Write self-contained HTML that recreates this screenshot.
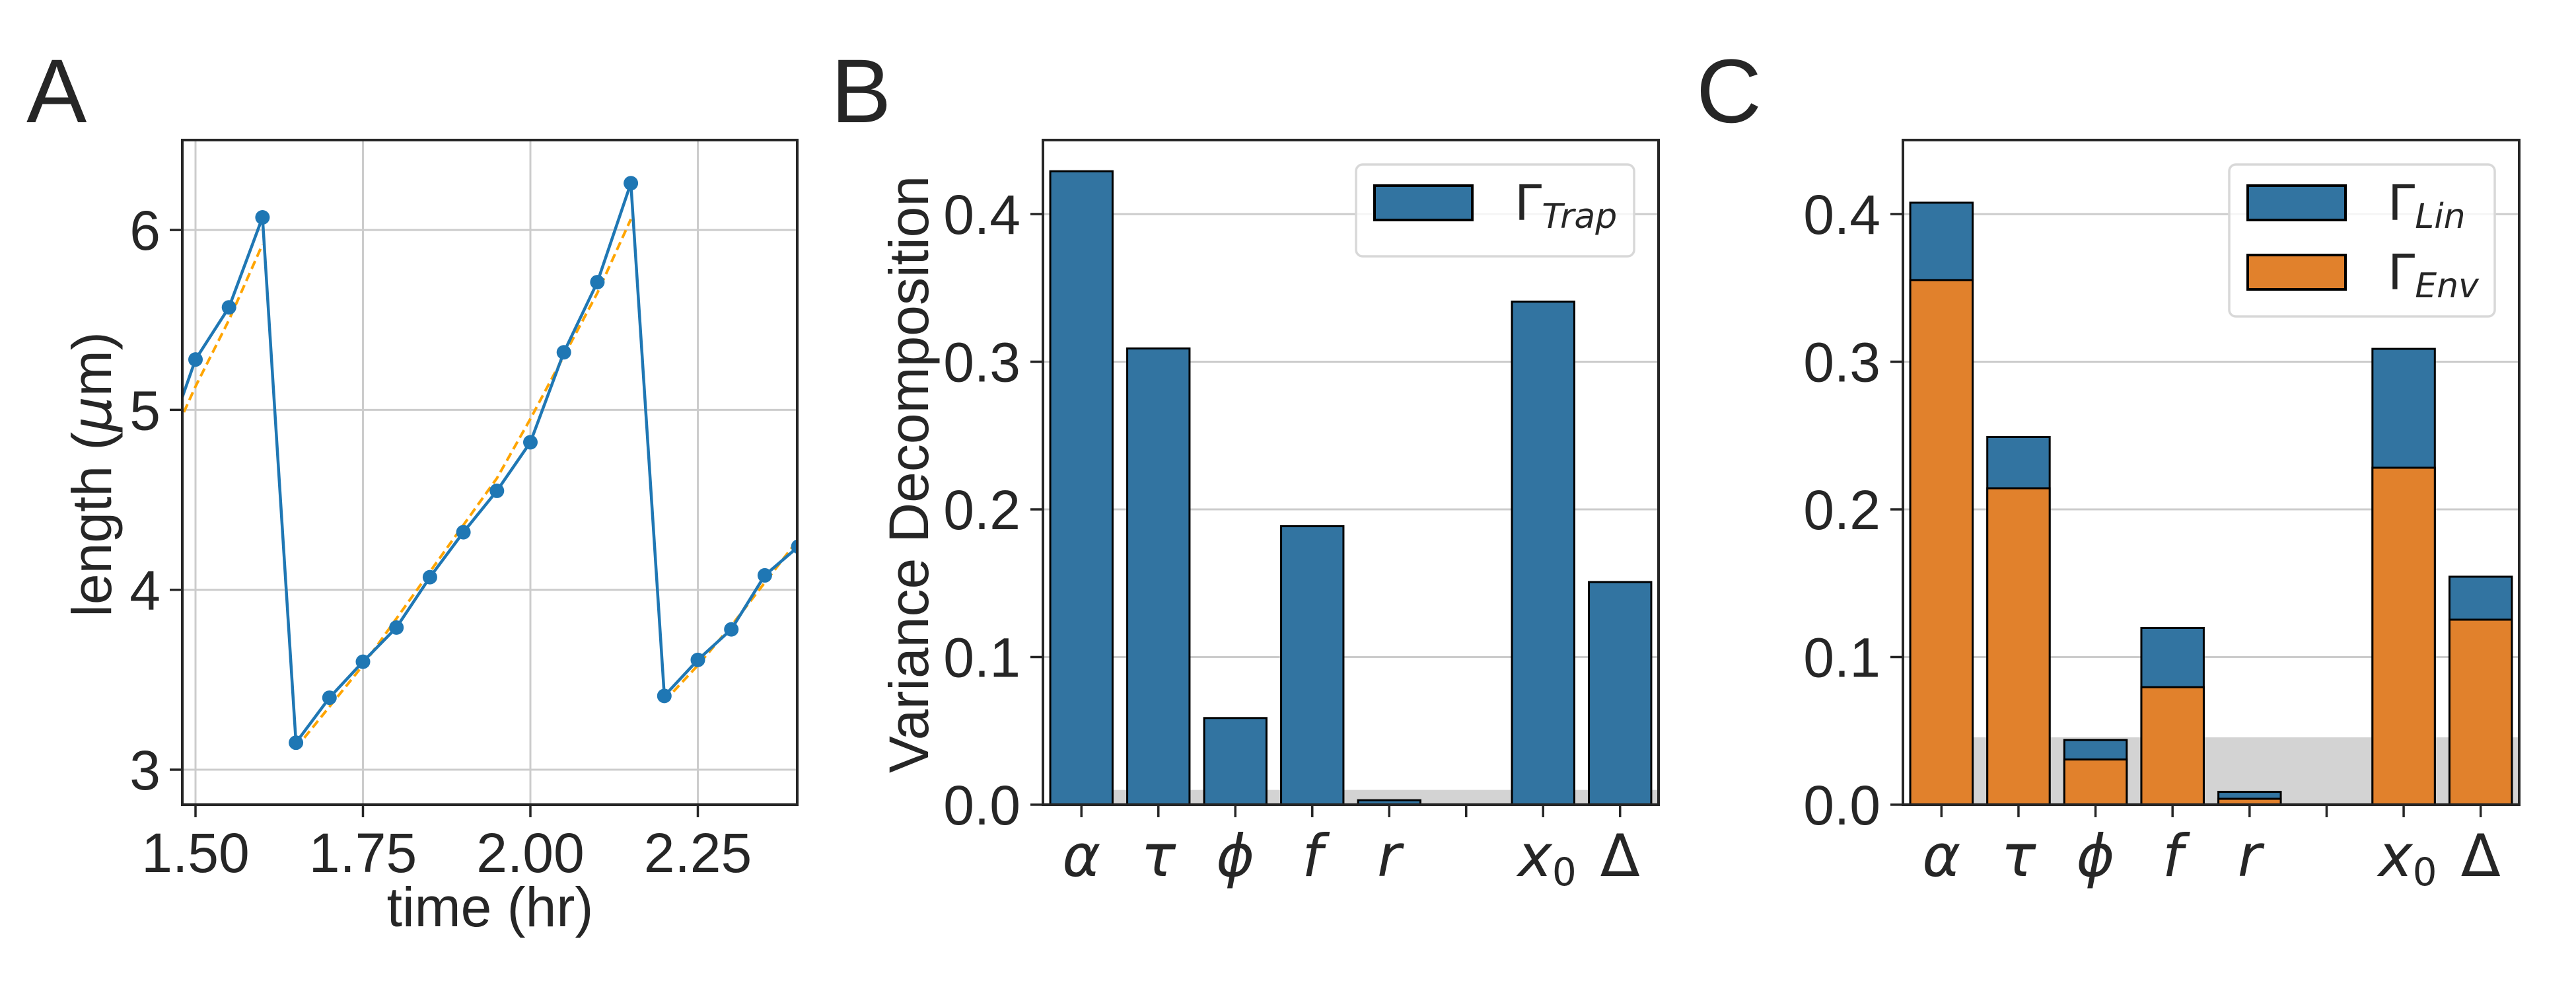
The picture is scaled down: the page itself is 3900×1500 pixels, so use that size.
<!DOCTYPE html>
<html><head><meta charset="utf-8"><style>
html,body{margin:0;padding:0;background:#fff;}
svg{display:block;}
text{fill:#262626;font-family:"Liberation Sans",sans-serif;}
</style></head><body>
<svg id="fig" width="3900" height="1500" viewBox="0 0 3900 1500" xmlns="http://www.w3.org/2000/svg">
<rect width="3900" height="1500" fill="#fff"/>
<text x="40" y="185" font-size="137">A</text>
<text x="1258" y="185" font-size="137">B</text>
<text x="2568" y="185" font-size="137">C</text>
<g id="pa"></g>
<g id="pb"></g>
<g id="pc"></g>
</svg>
<script>
// Panel A data
const timesA = [1.45,1.50,1.55,1.60,1.65,1.70,1.75,1.80,1.85,1.90,1.95,2.00,2.05,2.10,2.15,2.20,2.25,2.30,2.35,2.40];
const lengthsA = [4.75,5.28,5.57,6.07,3.15,3.40,3.60,3.79,4.07,4.32,4.55,4.82,5.32,5.71,6.26,3.41,3.61,3.78,4.08,4.24];
const fit1T = [1.45,1.50,1.55,1.60];
const fit1V = [4.72,5.13,5.50,5.92];
const fit2T = [1.65,1.75,1.85,1.95,2.00,2.05,2.10,2.15];
const fit2V = [3.12,3.58,4.10,4.62,4.95,5.30,5.65,6.06];
const fit3T = [2.20,2.25,2.30,2.35,2.40,2.45];
const fit3V = [3.38,3.58,3.80,4.04,4.28,4.52];
const xTicksA = [1.50,1.75,2.00,2.25];
const xTickLabelsA = ["1.50","1.75","2.00","2.25"];
const yTicksA = [3,4,5,6];
const yTickLabelsA = ["3","4","5","6"];
// Panel B data
const catsB = ["α","τ","ϕ","f","r","","x0","Δ"];
const valsB = [0.429,0.309,0.0587,0.1886,0.003,0,0.3407,0.1508];
// Panel C data
const linTotalC = [0.4077,0.249,0.0438,0.1197,0.0087,0,0.3087,0.1544];
const envC = [0.3553,0.2143,0.0306,0.0796,0.004,0,0.2282,0.1253];
const yTicksBar = [0.0,0.1,0.2,0.3,0.4];
const yTickLabelsBar = ["0.0","0.1","0.2","0.3","0.4"];
const bandB = 0.01;
const bandC = 0.0456;

const NS="http://www.w3.org/2000/svg";
const TICK=84, TITLE=84;
const MATH='font-family:"DejaVu Sans",sans-serif;font-style:italic;';
function mk(parent,tag,attrs,txt){const e=document.createElementNS(NS,tag);for(const k in attrs)e.setAttribute(k,attrs[k]);if(txt!==undefined)e.textContent=txt;parent.appendChild(e);return e;}

// ---------- Panel A ----------
(function(){
  const g=document.getElementById('pa');
  const L=276,R=1207,T=212,B=1218;
  const x=t=>296+(t-1.5)*1014;
  const y=v=>1165-(v-3)*272.3;
  const cp=mk(g,'clipPath',{id:'clipA'});
  mk(cp,'rect',{x:L,y:T,width:R-L,height:B-T});
  xTicksA.forEach((t,i)=>{
    const gl=mk(g,'line',{x1:x(t),x2:x(t),y1:T,y2:B,stroke:'#cccccc','stroke-width':3});
    
    
    mk(g,'line',{x1:x(t),x2:x(t),y1:B,y2:B+19,stroke:'#262626','stroke-width':3.5});
    const tl=mk(g,'text',{x:x(t),y:1320,'font-size':TICK,'text-anchor':'middle'},xTickLabelsA[i]);
    
    
  });
  yTicksA.forEach((v,i)=>{
    const gl=mk(g,'line',{x1:L,x2:R,y1:y(v),y2:y(v),stroke:'#cccccc','stroke-width':3});
    
    
    mk(g,'line',{x1:L-19,x2:L,y1:y(v),y2:y(v),stroke:'#262626','stroke-width':3.5});
    const tl=mk(g,'text',{x:243,y:y(v)+30,'font-size':TICK,'text-anchor':'end'},yTickLabelsA[i]);
    
    
  });
  const cg=mk(g,'g',{'clip-path':'url(#clipA)'});
  [[fit1T,fit1V],[fit2T,fit2V],[fit3T,fit3V]].forEach(([ts,vs])=>{
    const p=mk(cg,'polyline',{points:ts.map((t,i)=>x(t)+','+y(vs[i])).join(' '),fill:'none',stroke:'#ffa500','stroke-width':4,'stroke-dasharray':'13 7'});
    
    
  });
  const ln=mk(cg,'polyline',{points:timesA.map((t,i)=>x(t)+','+y(lengthsA[i])).join(' '),fill:'none',stroke:'#1f77b4','stroke-width':4.5});
  
  
  timesA.forEach((t,i)=>{
    const c=mk(cg,'circle',{cx:x(t),cy:y(lengthsA[i]),r:11,fill:'#1f77b4'});
    
    
  });
  const fr=mk(g,'rect',{x:L,y:T,width:R-L,height:B-T,fill:'none',stroke:'#262626','stroke-width':4});
  
  
  const xl=mk(g,'text',{x:742,y:1402,'font-size':TITLE,'text-anchor':'middle'},'time (hr)');
  
  
  const yl=mk(g,'text',{x:0,y:0,'font-size':TITLE,'text-anchor':'middle',transform:'translate(168,718) rotate(-90)'});
  
  
  yl.innerHTML='length (<tspan style=\''+MATH+'\'>μ</tspan>m)';
})();

// ---------- Bar panels ----------
function barPanel(gid,L,R,totals,lower,band,legendItems,legendBox,ylabel){
  const g=document.getElementById(gid);
  const T=212,B=1218;
  const step=(R-L)/8;
  const x=i=>L+step*(i+0.5);
  const y=v=>B-v*2235;
  const bw=step*0.81;
  yTicksBar.forEach((v,i)=>{
    if(i>0){const gl=mk(g,'line',{x1:L,x2:R,y1:y(v),y2:y(v),stroke:'#cccccc','stroke-width':3});
    
    }
    mk(g,'line',{x1:L-19,x2:L,y1:y(v),y2:y(v),stroke:'#262626','stroke-width':3.5});
    const tl=mk(g,'text',{x:L-34,y:y(v)+30,'font-size':TICK,'text-anchor':'end'},yTickLabelsBar[i]);
    
    
  });
  const bd=mk(g,'rect',{x:x(0)-bw/2,y:y(band),width:R-(x(0)-bw/2),height:B-y(band),fill:'#d3d3d3'});
  
  
  catsB.forEach((c,i)=>{
    mk(g,'line',{x1:x(i),x2:x(i),y1:B,y2:B+19,stroke:'#262626','stroke-width':3.5});
    if(c){
      const tl=mk(g,'text',{x:x(i),y:1326,'font-size':88,'text-anchor':'middle',style:MATH});
      
      
      if(c==='x0'){tl.innerHTML='x<tspan font-size="58" dy="14" style="font-style:normal">0</tspan>';tl.setAttribute('x',x(i)+6);}
      else if(c==='Δ'){tl.textContent=c;tl.setAttribute('style','font-family:"DejaVu Sans",sans-serif;font-style:normal;');}
      else tl.textContent=c;
    }
    if(totals[i]>0){
      const b=mk(g,'rect',{x:x(i)-bw/2,y:y(totals[i]),width:bw,height:B-y(totals[i]),fill:'#3274a1',stroke:'#000','stroke-width':3});
      
      
    }
    if(lower && lower[i]>0){
      const b=mk(g,'rect',{x:x(i)-bw/2,y:y(lower[i]),width:bw,height:B-y(lower[i]),fill:'#e1812c',stroke:'#000','stroke-width':3});
      
      
    }
  });
  const fr=mk(g,'rect',{x:L,y:T,width:R-L,height:B-T,fill:'none',stroke:'#262626','stroke-width':4});
  
  
  const [lx,ly,lw,lh]=legendBox;
  const lg=mk(g,'g',{});
  
  
  mk(lg,'rect',{x:lx,y:ly,width:lw,height:lh,rx:10,fill:'#fff','fill-opacity':0.8,stroke:'#d8d8d8','stroke-width':3.5});
  legendItems.forEach((it,k)=>{
    const py=ly+32+k*105;
    const e=mk(lg,'rect',{x:lx+28,y:py,width:148,height:52,fill:it.color,stroke:'#000','stroke-width':4});
    
    
    const t=mk(lg,'text',{x:lx+240,y:py+52,'font-size':74,style:'font-family:"DejaVu Sans",sans-serif;font-style:normal;'});
    
    
    t.innerHTML='Γ<tspan style="font-style:italic" font-size="52" dy="12">'+it.sub+'</tspan>';
  });
  if(ylabel){
    const yl=mk(g,'text',{x:0,y:0,'font-size':TITLE,'text-anchor':'middle',transform:'translate(1405,718) rotate(-90)'},ylabel);
    
    
  }
}
barPanel('pb',1579,2511,valsB,null,bandB,[{color:'#3274a1',sub:'Trap'}],[2053,249,421,139],'Variance Decomposition');
barPanel('pc',2881,3814,linTotalC,envC,bandC,[{color:'#3274a1',sub:'Lin'},{color:'#e1812c',sub:'Env'}],[3375,249,402,230],null);
</script>
</body></html>
